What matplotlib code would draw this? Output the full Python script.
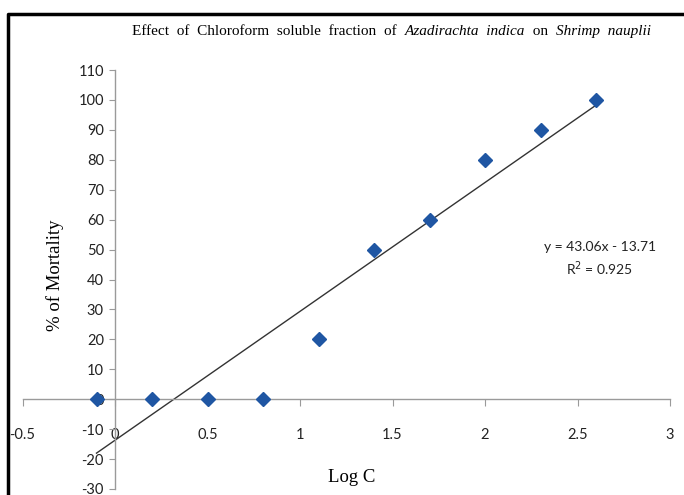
import matplotlib
matplotlib.use("Agg")
import matplotlib.pyplot as plt
from matplotlib.lines import Line2D
import numpy as np

plt.rcParams['axes.unicode_minus'] = False

log_c = [-0.1, 0.2, 0.5, 0.8, 1.1, 1.4, 1.7, 2.0, 2.3, 2.6]
mortality = [0, 0, 0, 0, 20, 50, 60, 80, 90, 100]
slope, intercept = 43.06, -13.71
x_ticks = [-0.5, 0, 0.5, 1, 1.5, 2, 2.5, 3]
x_tick_labels = ["-0.5", "0", "0.5", "1", "1.5", "2", "2.5", "3"]
y_ticks = list(range(-30, 111, 10))
title_parts = [("Effect  of  Chloroform  soluble  fraction  of  ", "normal"),
               ("Azadirachta  indica", "italic"),
               ("  on  ", "normal"),
               ("Shrimp  nauplii", "italic")]

tick_font = ['Lato', 'DejaVu Sans']
serif = 'Liberation Serif'

fig = plt.figure(figsize=(6.84, 4.95), dpi=100)
ax = fig.add_axes([22.5/684, 1-489/495, 647.5/684, (489-70)/495])
ax.set_xlim(-0.5, 3)
ax.set_ylim(-30, 110)
ax.patch.set_alpha(0)

for s in ['top', 'right']:
    ax.spines[s].set_visible(False)
ax.spines['left'].set_position(('data', 0))
ax.spines['bottom'].set_position(('data', 0))
for s in ['left', 'bottom']:
    ax.spines[s].set_color('#9a9a9a')
    ax.spines[s].set_linewidth(1.0)

ax.set_xticks(x_ticks)
ax.set_xticklabels(x_tick_labels)
ax.set_yticks(y_ticks)
ax.tick_params(axis='x', direction='out', length=5, color='#9a9a9a', pad=16, labelsize=10.5)
ax.tick_params(axis='y', direction='out', length=4, color='#9a9a9a', pad=4, labelsize=10.5)
for lab in ax.get_xticklabels() + ax.get_yticklabels():
    lab.set_family(tick_font)
    lab.set_color('#222222')

xs = np.array([min(log_c), max(log_c)])
ax.plot(xs, slope*xs + intercept, color='#333333', lw=1.0, zorder=2)
ax.plot(log_c, mortality, linestyle='none', marker='D', markersize=7,
        color='#1f56a3', zorder=3, clip_on=False)

ax.text(2.62, 51.0, "y = 43.06x - 13.71", ha='center', va='center',
        family=tick_font, fontsize=10, color='#222222')
ax.text(2.62, 43.5, "R$^2$ = 0.925", ha='center', va='center',
        family=tick_font, fontsize=10, color='#222222')

# title in pieces, chained
prev = fig.text(132/684, 1-30/495, title_parts[0][0], ha='left', va='center_baseline',
                fontfamily=serif, fontstyle=title_parts[0][1], fontsize=11)
for txt, style in title_parts[1:]:
    prev = ax.annotate(txt, xy=(1, 0), xycoords=prev, ha='left', va='bottom',
                       fontfamily=serif, fontstyle=style, fontsize=11,
                       annotation_clip=False)

fig.text(55/684, 1-275/495, "% of Mortality", rotation=90, ha='center', va='center',
         fontfamily=serif, fontsize=13.5)
fig.text(352/684, 1-478/495, "Log C", ha='center', va='center',
         fontfamily=serif, fontsize=13.5)

# outer frame (top and left)
fig.add_artist(Line2D([8/684, 8/684, 1.0], [0, 1-14/495, 1-14/495],
                      transform=fig.transFigure, color='black', lw=2.5))

fig.savefig("out.png", dpi=100)
